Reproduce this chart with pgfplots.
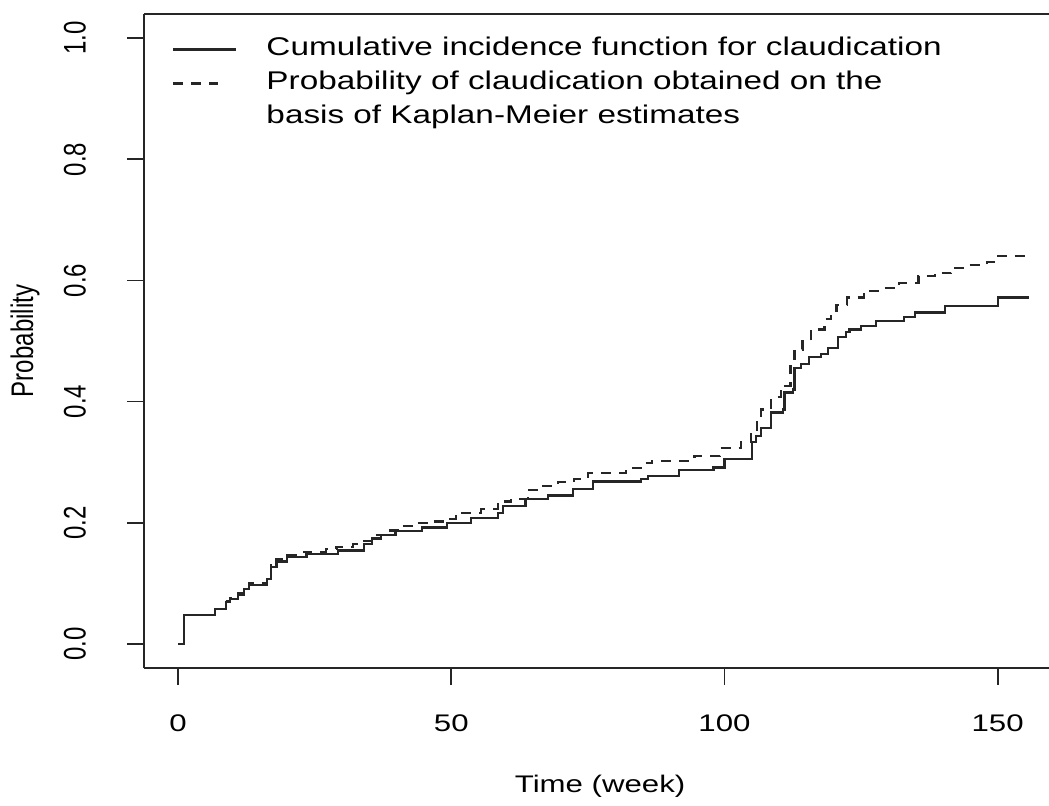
\documentclass[border=0pt]{standalone}
\usepackage{fontspec}
\setmainfont{Liberation Sans}
\usepackage{pgfplots}
\pgfplotsset{compat=1.18}
\usetikzlibrary{calc}
\pgfplotsset{
  solidimg/.style={legend image code/.code={\draw[##1] (0pt,0pt) -- (31.5pt,0pt); \path[draw=none, fill=none] (0pt,0pt) -- (46.5pt,0pt);}},
  dashimg/.style={legend image code/.code={\draw[##1] (0pt,0pt) -- (22.5pt,0pt); \path[draw=none, fill=none] (0pt,0pt) -- (46.5pt,0pt);}},
}

\begin{document}
\begin{tikzpicture}
\begin{axis}[
  scale only axis,
  width=452.5pt, height=327pt,
  xmin=-6.24, xmax=159.4,
  ymin=-0.04, ymax=1.04,
  axis x line*=box, axis y line*=left,
  xtick pos=left, ytick pos=left,
  xtick={0,50,100,150},
  ytick={0,0.2,0.4,0.6,0.8,1},
  tick align=outside,
  major tick length=8.5pt,
  every tick/.style={black!85, line width=0.9pt},
  axis line style={black!85, line width=0.9pt},
  /pgf/number format/assume math mode=true,
  yticklabel style={/pgf/number format/fixed, /pgf/number format/fixed zerofill, /pgf/number format/precision=1},
  tick label style={font=\fontsize{12}{14}\selectfont, inner sep=0pt},
  x tick label style={anchor=center, xscale=1.3},
  y tick label style={anchor=center, rotate=90, yscale=1.3},
  xticklabel shift=19pt,
  yticklabel shift=26pt,
  label style={font=\fontsize{12}{14}\selectfont},
  xlabel={Time (week)},
  xlabel style={at={(axis description cs:0.504,-0.181)}, anchor=center, xscale=1.3},
  ylabel={Probability},
  ylabel style={at={(axis description cs:-0.1315,0.5)}, anchor=center, yscale=1.3},
  legend cell align=left,
  legend style={draw=none, fill=none, inner sep=0pt,
    at={(axis description cs:0,1)}, anchor=north west,
    xshift=14pt, yshift=-11.5pt, row sep=5pt,
    font=\fontsize{12.8}{14}\selectfont,
    nodes={inner sep=0pt, text height=9pt, text depth=3pt, xscale=1.3}},
  solidimg,
]
\addplot[const plot, black!85, line width=1.1pt] coordinates {
(0,0) (1.1,0.047) (6.7,0.057) (8.7,0.069) (9.5,0.074) (11,0.080) (12,0.090)
(13,0.097) (16.3,0.107) (17,0.127) (18,0.136) (20,0.143) (23.5,0.148)
(29.2,0.154) (34,0.165) (35.5,0.174) (37.1,0.179) (39.8,0.186) (44.7,0.192)
(49.2,0.200) (53.6,0.208) (58.5,0.216) (59.5,0.228) (63.6,0.239) (67.7,0.245)
(72.3,0.256) (75.9,0.268) (84.7,0.272) (86,0.277) (91.7,0.287) (98,0.291)
(100,0.305) (105,0.333) (105.8,0.343) (106.7,0.357) (108.5,0.382) (110.7,0.387)
(111,0.415) (112.5,0.420) (112.8,0.456) (114,0.462) (115.5,0.473) (117.7,0.478)
(118.9,0.489) (120.8,0.507) (122.3,0.515) (122.9,0.519) (125,0.525) (127.7,0.533)
(132.9,0.539) (134.8,0.547) (140.3,0.558) (150,0.572) (155.8,0.572)
};
\addlegendentry{Cumulative incidence function for claudication}
\addplot[const plot, black!85, line width=1.1pt, dash pattern=on 5pt off 4pt, dashimg] coordinates {
(0,0) (1.1,0.047) (6.7,0.058) (8.7,0.070) (9.5,0.076) (11,0.083) (12,0.093)
(13,0.100) (16.3,0.110) (17,0.130) (18,0.140) (20,0.147) (23,0.152) (27,0.156)
(29,0.160) (32,0.165) (34,0.170) (36,0.179) (38.5,0.187) (40.5,0.194) (43.5,0.199)
(46,0.202) (49,0.206) (50.8,0.216) (55.4,0.223) (58.5,0.235) (61,0.239) (64,0.254)
(66.4,0.261) (69.5,0.267) (72.5,0.272) (75,0.282) (82,0.290) (84.7,0.298)
(86.8,0.302) (94.5,0.310) (99.2,0.323) (103,0.333) (104.9,0.349) (106,0.370)
(106.7,0.387) (108.5,0.407) (110.3,0.426) (112.1,0.459) (112.8,0.486) (114.3,0.500)
(115.8,0.519) (118.3,0.536) (119.5,0.550) (120.5,0.560) (122.5,0.572) (125.5,0.583)
(128.5,0.587) (132,0.596) (135.5,0.607) (138.5,0.612) (141.5,0.621) (144,0.625)
(148,0.630) (150,0.640) (156,0.640)
};
\addlegendentry{Probability of claudication obtained on the}
\addlegendimage{empty legend}
\addlegendentry{basis of Kaplan-Meier estimates}
\end{axis}
\pgfresetboundingbox
\path[use as bounding box] ($(current axis.south west)+(-72pt,-68.5pt)$) rectangle ($(current axis.north east)+(0pt,7pt)$);
\end{tikzpicture}
\end{document}
